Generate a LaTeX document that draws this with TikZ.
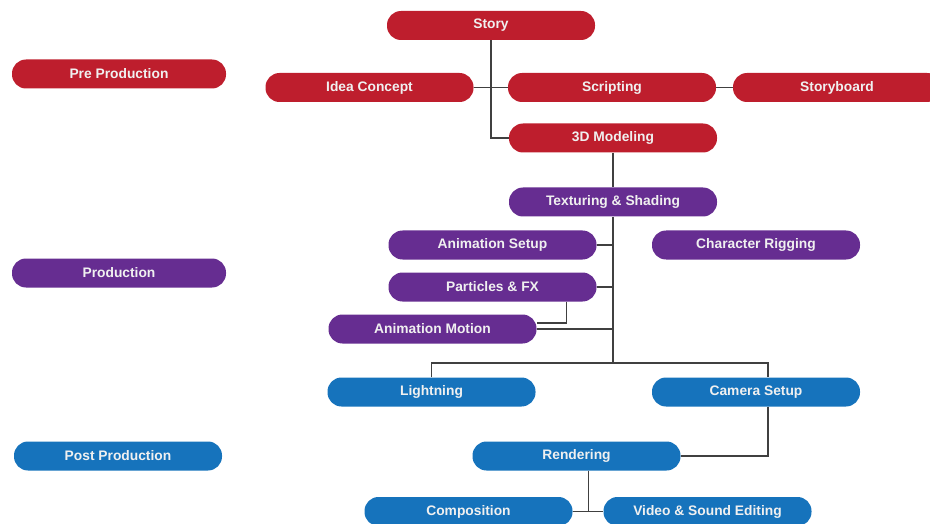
\documentclass[tikz,border=0pt]{standalone}
\usepackage{fontspec}
\setmainfont{Liberation Sans}
\usetikzlibrary{calc}

\definecolor{prered}{RGB}{190,30,45}
\definecolor{prodpurple}{RGB}{102,45,145}
\definecolor{postblue}{RGB}{22,115,188}

\tikzset{
  pill/.style={rounded corners=14pt, minimum width=208pt, minimum height=29pt,
    inner sep=0pt, text=white!94!black, font=\bfseries\fontsize{13.8}{15}\selectfont},
  pre/.style={pill, fill=prered},
  prod/.style={pill, fill=prodpurple},
  post/.style={pill, fill=postblue},
  link/.style={draw=black!75, line width=1.4pt}
}

\begin{document}
\begin{tikzpicture}[x=1pt,y=-1pt]
\useasboundingbox (0,0) rectangle (930,524);

% the three stages on the left
\node[pre,  minimum width=214pt] (prestage)  at (119,74)  {Pre Production};
\node[prod, minimum width=214pt] (prodstage) at (119,273) {Production};
\node[post] (poststage) at (118,456) {Post Production};

% pre production
\node[pre] (story)  at (491,25.5)  {Story};
\node[pre] (idea)   at (369.5,87.5) {Idea Concept};
\node[pre] (script) at (612,87.5)  {Scripting};
\node[pre] (board)  at (837,87.5)  {Storyboard};
\node[pre] (model)  at (613,138)   {3D Modeling};

% production
\node[prod] (texture)   at (613,202)   {Texturing \& Shading};
\node[prod] (setup)     at (492.5,245) {Animation Setup};
\node[prod] (rigging)   at (756,245)   {Character Rigging};
\node[prod] (particles) at (492.5,287) {Particles \& FX};
\node[prod] (motion)    at (432.5,329) {Animation Motion};

% post production
\node[post] (light)  at (431.5,392) {Lightning};
\node[post] (camera) at (756,392)   {Camera Setup};
\node[post] (render) at (576.5,456) {Rendering};
\node[post] (comp)   at (468.5,511.5) {Composition};
\node[post] (video)  at (707.5,511.5) {Video \& Sound Editing};

\coordinate (bar) at (613,363);

% connectors
\draw[link] (story.south) |- (model.west);
\draw[link] (idea.east) -- (script.west);
\draw[link] (script.east) -- (board.west);
\draw[link] (model.south) -- (texture.north);
\draw[link] (texture.south) -- (bar);
\draw[link] (setup.east) -- (setup.east -| bar);
\draw[link] (particles.east) -- (particles.east -| bar);
\draw[link] (motion.east) -- (motion.east -| bar);
\draw[link] ([xshift=74pt]particles.south) |- ([yshift=6pt]motion.east);
\draw[link] (light.north) |- (bar) -| ([xshift=12pt]camera.north);
\draw[link] ([xshift=12pt]camera.south) |- (render.east);
\draw[link] ([xshift=12pt]render.south) |- (comp.east);
\draw[link] ([xshift=12pt]render.south) |- (video.west);
\end{tikzpicture}
\end{document}
